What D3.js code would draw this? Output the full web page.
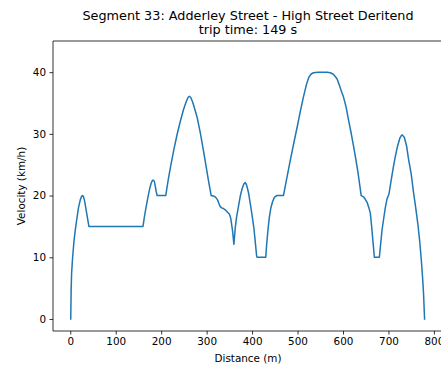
<!DOCTYPE html>
<html>
<head>
<meta charset="utf-8">
<script src="https://cdn.jsdelivr.net/npm/d3@7"></script>
<style>
body { margin: 0; background: #fff; }
svg { display: block; font-family: "DejaVu Sans", sans-serif; }
</style>
</head>
<body>
<svg id="chart" width="441" height="368"></svg>
<script>
const titleLines = ["Segment 33: Adderley Street - High Street Deritend", "trip time: 149 s"];
const xLabel = "Distance (m)";
const yLabel = "Velocity (km/h)";
const xTicks = [0, 100, 200, 300, 400, 500, 600, 700, 800];
const yTicks = [0, 10, 20, 30, 40];

const distance = [
  1, 2, 3, 5, 8, 11, 14, 18, 22, 25, 27, 29, 31, 33, 35, 38, 41,
  160, 163, 167, 171, 175, 178, 181, 183, 185, 187, 189, 191,
  210, 216, 222, 228, 235, 242, 249, 255, 259, 262, 265, 269, 274, 279, 286, 293, 300, 305, 310,
  316, 320, 324, 327, 330, 333, 337, 341, 346, 350, 353, 357, 360,
  363, 366, 370, 374, 378, 382, 385, 388, 392, 396, 400, 404, 407, 410, 411,
  430, 432, 435, 438, 441, 445, 449, 454, 469,
  475, 484, 492, 500, 506, 513, 520, 525, 530, 535, 545, 565, 572, 578, 583, 587, 592, 597, 601,
  607, 612, 618, 623, 628, 633, 637, 640, 645, 649, 653, 657, 660, 663, 666, 669, 680,
  683, 686, 689, 693, 697, 701, 705, 710, 715, 720, 725, 729, 731, 735, 740, 744, 750, 755,
  760, 765, 769, 772, 775, 777, 779.5
];
const velocity = [
  0, 5, 7.5, 9.8, 12.5, 14.4, 16, 18, 19.3, 19.9, 20, 19.8, 19.3, 18.5, 17.6, 16.3, 15,
  15, 16.5, 18.2, 19.8, 21.2, 22, 22.5, 22.5, 22.3, 21.5, 20.7, 20,
  20, 22.8, 25.2, 27.5, 29.9, 32, 33.9, 35.2, 35.9, 36.1, 35.9, 35.2, 34, 32.7, 30.2, 27.3, 24.2, 22, 20,
  19.9, 19.7, 19.3, 18.7, 18.2, 18, 17.9, 17.7, 17.3, 17, 16.3, 14.3, 12.1,
  14.8, 16.6, 18.2, 19.9, 21.1, 21.9, 22.1, 21.7, 20.5, 18.7, 16.8, 14.7, 12.5, 10.2, 10,
  10, 12, 14.5, 16.5, 17.9, 19, 19.7, 20, 20,
  22.3, 25.7, 28.6, 31.4, 33.6, 36, 38.1, 39.2, 39.7, 39.9, 40, 40, 39.9, 39.7, 39.3, 38.9, 37.9, 36.8, 36,
  34.3, 32.3, 30.1, 28.1, 26, 23.7, 21.6, 20, 19.8, 19.4, 18.9, 18, 17.2, 15, 12.5, 10, 10,
  12.3, 14.5, 16, 18, 19.5, 20.2, 22, 24.3, 26.3, 28, 29.3, 29.8, 29.8, 29.4, 28, 26, 23.5, 20.6,
  18, 15.2, 12.4, 9.8, 6.8, 4.4, 0
];

const svg = d3.select("#chart");
const mLeft = 53, mTop = 41, mBottom = 331, mRight = 443;

const x = d3.scaleLinear().domain([-38, 820]).range([mLeft, mRight]);
const y = d3.scaleLinear().domain([-1.95, 45.05]).range([mBottom, mTop]);

// line
const pts = distance.map((d, i) => [d, velocity[i]]);
svg.append("path")
  .datum(pts)
  .attr("fill", "none")
  .attr("stroke", "#1f77b4")
  .attr("stroke-width", 1.5)
  .attr("stroke-linejoin", "round")
  .attr("stroke-linecap", "square")
  .attr("d", d3.line().x(d => x(d[0])).y(d => y(d[1])));

// axes
const xAxis = d3.axisBottom(x).tickValues(xTicks).tickSizeOuter(0).tickSize(3.5).tickPadding(3.5);
const gx = svg.append("g").attr("transform", `translate(0,${mBottom})`).call(xAxis);
const yAxis = d3.axisLeft(y).tickValues(yTicks).tickSizeOuter(0).tickSize(3.5).tickPadding(3.5);
const gy = svg.append("g").attr("transform", `translate(${mLeft},0)`).call(yAxis);
[gx, gy].forEach(g => {
  g.select(".domain").remove();
  g.selectAll("line").attr("stroke", "#000").attr("stroke-width", 0.8);
  g.selectAll("text").attr("fill", "#000").style("font-size", "10.4px").style("font-family", "DejaVu Sans, sans-serif");
});

// spines
const sp = svg.append("g").attr("stroke", "#000").attr("stroke-width", 0.8).attr("fill", "none");
sp.append("line").attr("x1", mLeft).attr("x2", mLeft).attr("y1", mTop).attr("y2", mBottom);
sp.append("line").attr("x1", mLeft).attr("x2", mRight).attr("y1", mBottom).attr("y2", mBottom);
sp.append("line").attr("x1", mLeft).attr("x2", mRight).attr("y1", mTop).attr("y2", mTop);
sp.append("line").attr("x1", mRight).attr("x2", mRight).attr("y1", mTop).attr("y2", mBottom);

// labels
svg.append("text").attr("x", (mLeft + mRight) / 2).attr("y", 362)
  .attr("text-anchor", "middle").style("font-size", "10.4px").text(xLabel);
svg.append("text").attr("transform", `translate(25,${(mTop + mBottom) / 2}) rotate(-90)`)
  .attr("text-anchor", "middle").style("font-size", "10.4px").text(yLabel);

// title
titleLines.forEach((t, i) => {
  svg.append("text").attr("x", (mLeft + mRight) / 2).attr("y", 20 + i * 14)
    .attr("text-anchor", "middle").style("font-size", "12.8px").text(t);
});
</script>
</body>
</html>
